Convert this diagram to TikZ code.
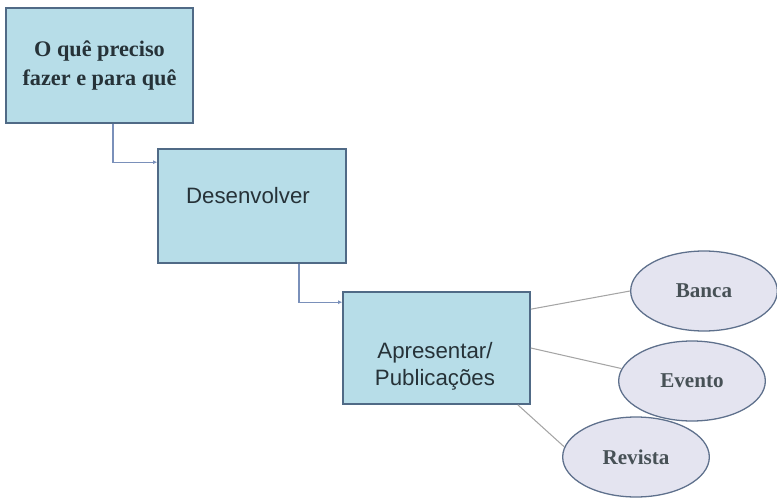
\documentclass[tikz,border=0pt]{standalone}
\usepackage{fontspec}
\setmainfont{Liberation Serif}
\setsansfont{Liberation Sans}
\usetikzlibrary{shapes.geometric,calc,arrows.meta}

\definecolor{boxblue}{RGB}{183,221,232}
\definecolor{boxedge}{RGB}{80,106,134}
\definecolor{lavender}{RGB}{228,228,240}
\definecolor{ovaledge}{RGB}{94,112,140}
\definecolor{flowline}{RGB}{122,144,186}
\definecolor{linkgray}{RGB}{165,165,165}
\definecolor{inkdark}{RGB}{38,50,56}

\begin{document}
\begin{tikzpicture}[x=0.3mm,y=-0.3mm,
    task box/.style={rectangle,draw=boxedge,line width=1.4pt,fill=boxblue,inner sep=0pt},
    venue node/.style={ellipse,draw=ovaledge,line width=1.1pt,fill=lavender,inner sep=0pt,
        minimum width=44mm,minimum height=24mm,text=inkdark!85,
        font=\fontsize{18}{22}\selectfont\bfseries},
    flow/.style={draw=flowline,line width=0.9pt,-{Latex[length=3.5pt,width=3.5pt]}},
    link/.style={draw=linkgray,line width=0.9pt}]

    \useasboundingbox (0,0) rectangle (777,498);

    % the three steps
    \node[task box, minimum width=56.1mm, minimum height=34.5mm, align=center, text=inkdark,
        font=\fontsize{19}{24}\selectfont\bfseries] (what) at (99.5,65.5) {O quê preciso\\fazer e para quê};
    \node[task box, minimum width=56.4mm, minimum height=34.2mm] (develop) at (252,206) {};
    \node[task box, minimum width=56.1mm, minimum height=33.6mm] (present) at (436.5,348) {};

    \node[font=\sffamily\fontsize{19}{23}\selectfont, text=inkdark, anchor=base] (developT) at (248,204) {Desenvolver};
    \node[font=\sffamily\fontsize{19}{23}\selectfont, text=inkdark, align=center] (presentT) at (435,366) {Apresentar/\\Publicações};

    % where it is presented
    \node[venue node] (banca) at (704,291) {Banca};
    \node[venue node] (evento) at (692,381) {Evento};
    \node[venue node] (revista) at (636,457) {Revista};

    \draw[flow] ($(what.south)+(13.5,0)$) |- ($(develop.north west)+(0,14)$);
    \draw[flow] ($(develop.south)+(47,0)$) |- ($(present.north west)+(0,11)$);

    \draw[link] ($(present.north east)+(0,18)$) -- (banca.west);
    \draw[link] (present.east) -- (evento.170);
    \draw[link] ($(present.south east)+(-13,0)$) -- (revista.172);

\end{tikzpicture}
\end{document}
